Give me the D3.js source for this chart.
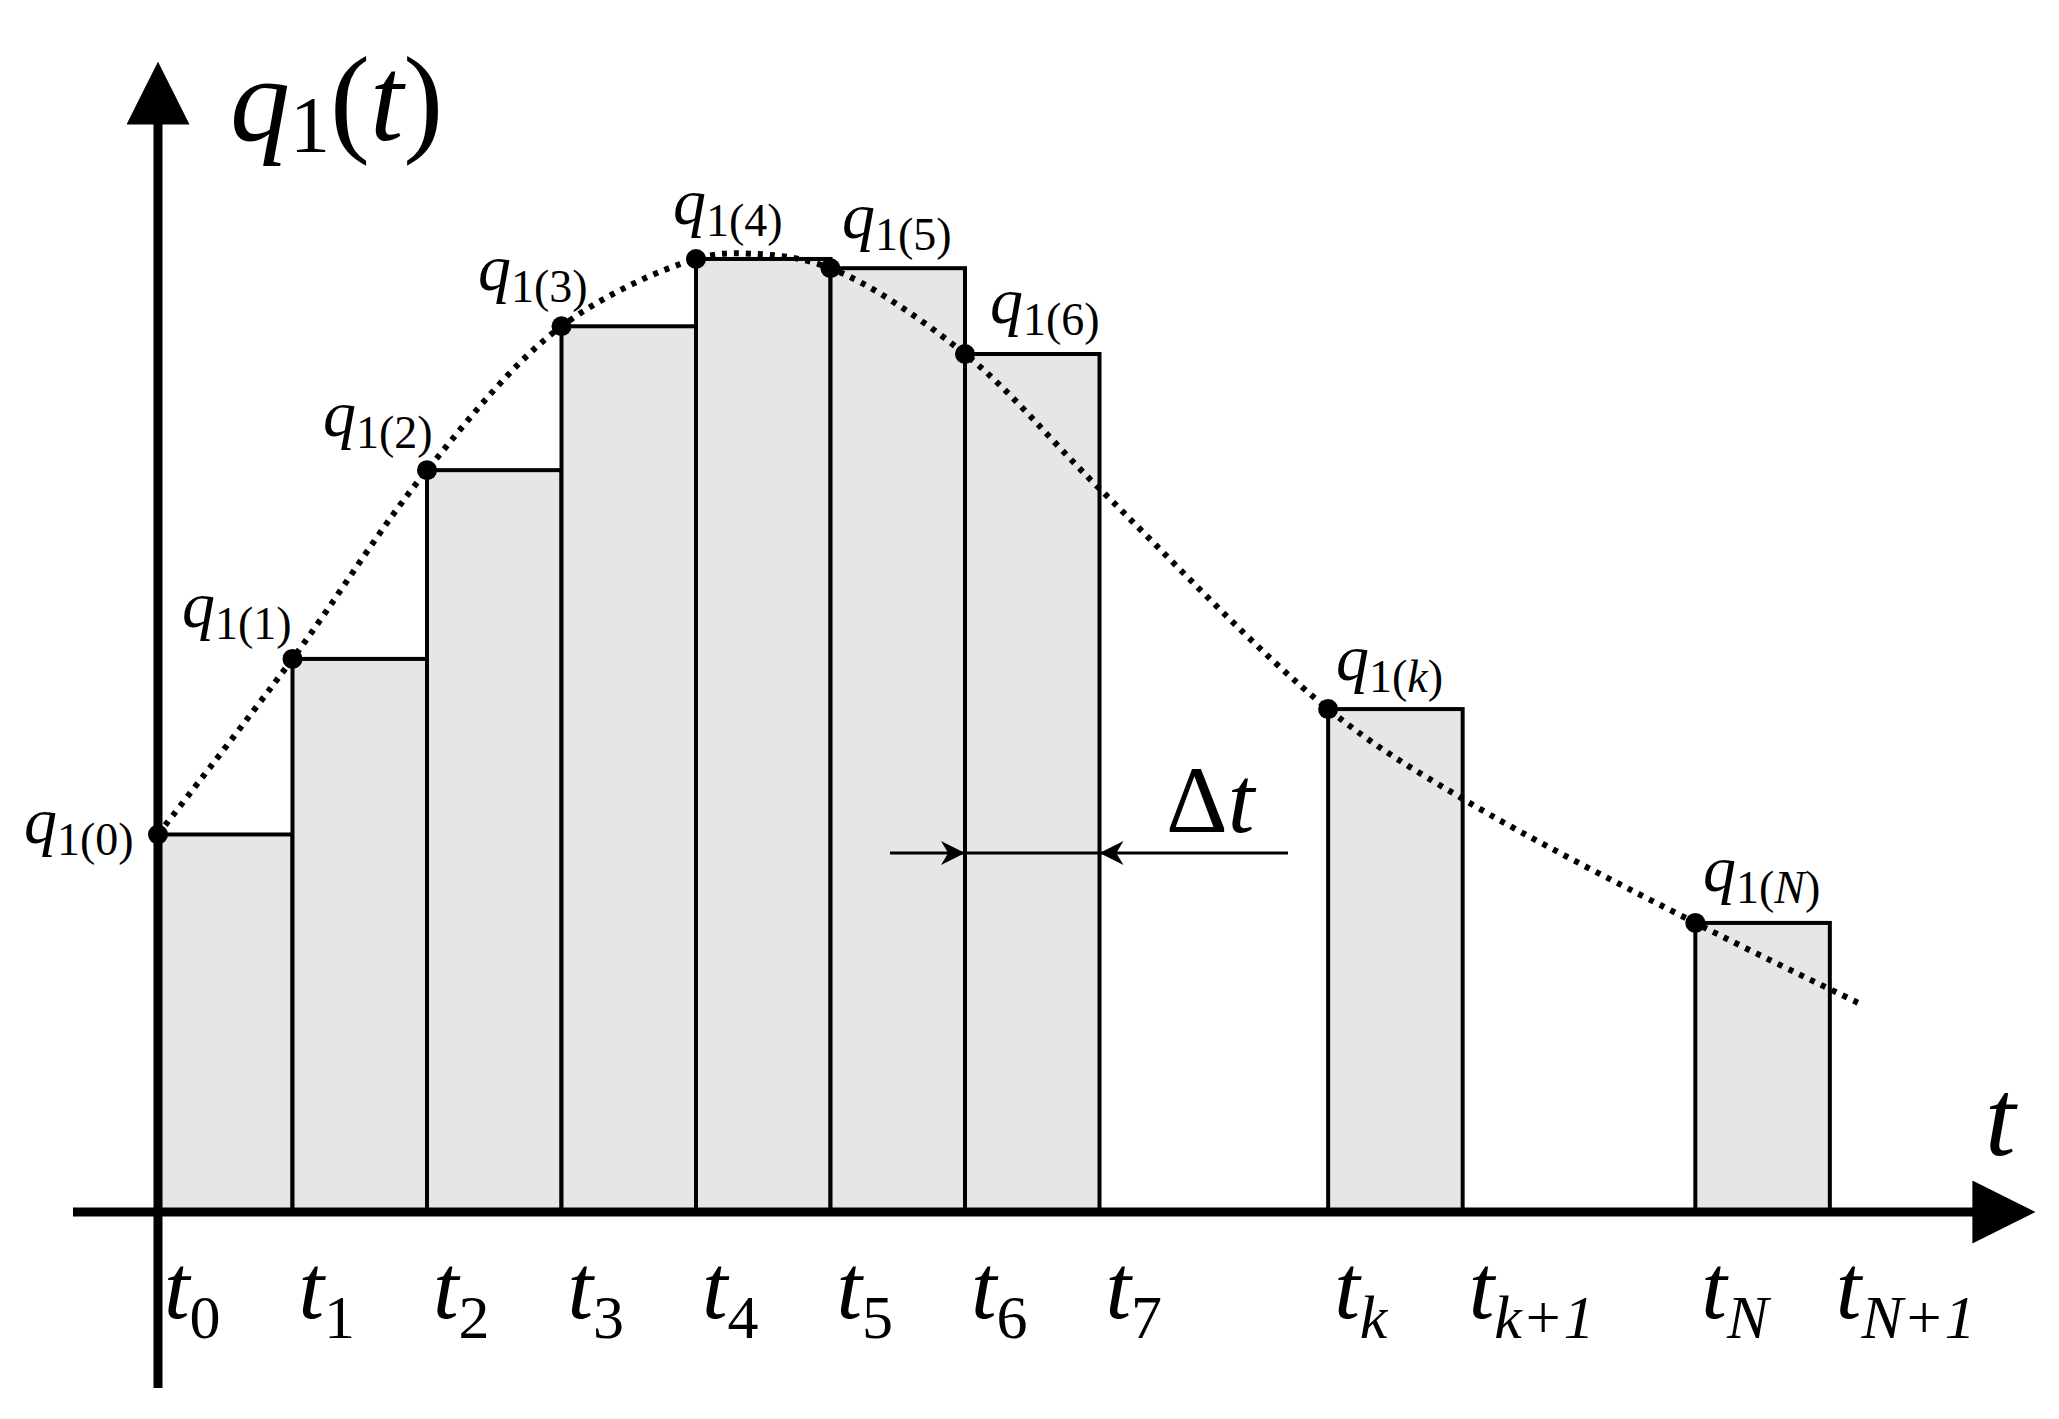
<!DOCTYPE html>
<html>
<head>
<meta charset="utf-8">
<script src="https://cdn.jsdelivr.net/npm/d3@7"></script>
<style>
  body { margin: 0; background: #fff; }
  text { font-family: 'Liberation Serif', 'Times New Roman', 'DejaVu Serif', serif; fill: #000; }
</style>
</head>
<body>
<svg id="chart"></svg>
<script>
// step boundaries (in units of Δt) and their labels
let tickTimes = [0, 1, 2, 3, 4, 5, 6, 7, 8.7, 9.7, 11.43, 12.43]
let tickSubs = ['0', '1', '2', '3', '4', '5', '6', '7', 'k', 'k+1', 'N', 'N+1']

// sample points q1(i) at the left edge of each bar
let sampleTimes = [0, 1, 2, 3, 4, 5, 6, 8.7, 11.43]
let sampleValues = [286, 419, 562, 671, 722, 715, 650, 381, 219]
let sampleSubs = ['1(0)', '1(1)', '1(2)', '1(3)', '1(4)', '1(5)', '1(6)', '1(k)', '1(N)']

// the continuous curve q1(t)
let curveTimes = [0, 1, 2, 3, 4, 4.4, 5, 6, 7, 8.7, 9.7, 11.43, 12.65]
let curveValues = [286, 419, 562, 671, 722, 726, 715, 650, 548, 381, 313, 219, 158]

let width = 2059
let height = 1419
let s = 1.32

let svg = d3.select('#chart').attr('width', width).attr('height', height)

let xScale = d3.scaleLinear().domain([0, 1]).range([158, 158 + 134.5])
let yScale = d3.scaleLinear().domain([0, 100]).range([1212, 1212 - 100 * s])

let bars = sampleTimes.map((t, i) => ({ x0: t, x1: t + 1, v: sampleValues[i] }))

svg.selectAll('rect.bar')
    .data(bars)
    .enter()
    .append('rect')
    .attr('class', 'bar')
    .attr('x', d => xScale(d.x0))
    .attr('width', d => xScale(d.x1) - xScale(d.x0))
    .attr('y', d => yScale(d.v))
    .attr('height', d => yScale(0) - yScale(d.v))
    .attr('fill', '#e6e6e6')
    .attr('stroke', '#000')
    .attr('stroke-width', 4)

// dotted curve
let line = d3.line()
    .x(d => xScale(d[0]))
    .y(d => yScale(d[1]))
    .curve(d3.curveCatmullRom)

svg.append('path')
    .datum(curveTimes.map((t, i) => [t, curveValues[i]]))
    .attr('d', line)
    .attr('fill', 'none')
    .attr('stroke', '#000')
    .attr('stroke-width', 6)
    .attr('stroke-dasharray', '5 7')

// sample dots
svg.selectAll('circle')
    .data(sampleTimes)
    .enter()
    .append('circle')
    .attr('cx', d => xScale(d))
    .attr('cy', (d, i) => yScale(sampleValues[i]))
    .attr('r', 10)
    .attr('fill', '#000')

// arrow markers
let defs = svg.append('defs')
defs.append('marker')
    .attr('id', 'bigArrow')
    .attr('viewBox', '0 0 10 10')
    .attr('refX', 2).attr('refY', 5)
    .attr('markerWidth', 7).attr('markerHeight', 7)
    .attr('markerUnits', 'strokeWidth')
    .attr('orient', 'auto')
    .append('path').attr('d', 'M0,0 L10,5 L0,10 Z').attr('fill', '#000')
defs.append('marker')
    .attr('id', 'smallArrow')
    .attr('viewBox', '0 0 10 10')
    .attr('refX', 10).attr('refY', 5)
    .attr('markerWidth', 12).attr('markerHeight', 8)
    .attr('markerUnits', 'strokeWidth')
    .attr('orient', 'auto')
    .append('path').attr('d', 'M0,0 L10,5 L0,10 L3,5 Z').attr('fill', '#000')

// axes
svg.append('line')
    .attr('x1', 73).attr('y1', yScale(0))
    .attr('x2', 1985).attr('y2', yScale(0))
    .attr('stroke', '#000').attr('stroke-width', 9)
    .attr('marker-end', 'url(#bigArrow)')
svg.append('line')
    .attr('x1', xScale(0)).attr('y1', 1388)
    .attr('x2', xScale(0)).attr('y2', 112)
    .attr('stroke', '#000').attr('stroke-width', 9)
    .attr('marker-end', 'url(#bigArrow)')

// tick labels t_i
let tl = svg.selectAll('text.tick')
    .data(tickTimes)
    .enter()
    .append('text')
    .attr('class', 'tick')
    .attr('x', d => xScale(d) + 6)
    .attr('y', 1318)
    .attr('font-size', 92)
    .attr('font-style', 'italic')
tl.append('tspan').text('t')
tl.append('tspan')
    .attr('font-size', 62)
    .attr('dy', 20)
    .attr('font-style', (d, i) => /[kN]/.test(tickSubs[i]) ? 'italic' : 'normal')
    .text((d, i) => tickSubs[i])

// sample labels q1(i)
let labelPos = [[24, 843], [182, 627], [323, 436], [478, 290], [673, 224], [842, 238], [990, 323], [1336, 680], [1703, 891]]
let ql = svg.selectAll('text.q')
    .data(sampleSubs)
    .enter()
    .append('text')
    .attr('class', 'q')
    .attr('x', (d, i) => labelPos[i][0])
    .attr('y', (d, i) => labelPos[i][1])
    .attr('font-size', 66)
    .attr('font-style', 'italic')
ql.append('tspan').text('q')
ql.append('tspan')
    .attr('font-size', 46)
    .attr('font-style', 'normal')
    .attr('dy', 12)
    .each(function (d) {
        let m = d.match(/^1\((.+)\)$/)
        let el = d3.select(this)
        el.append('tspan').text('1(')
        el.append('tspan').attr('font-style', /[kN]/.test(m[1]) ? 'italic' : 'normal').text(m[1])
        el.append('tspan').text(')')
    })

// axis titles
let yt = svg.append('text').attr('x', 230).attr('y', 140).attr('font-size', 120)
yt.append('tspan').attr('font-style', 'italic').text('q')
yt.append('tspan').attr('font-size', 80).attr('dy', 12).text('1')
yt.append('tspan').attr('dy', -12).text('(')
yt.append('tspan').attr('font-style', 'italic').text('t')
yt.append('tspan').text(')')

svg.append('text').attr('x', 1985).attr('y', 1155)
    .attr('font-size', 110).attr('font-style', 'italic').text('t')

// Δt dimension
let dimY = 853
svg.append('line')
    .attr('x1', 890).attr('y1', dimY).attr('x2', xScale(6)).attr('y2', dimY)
    .attr('stroke', '#000').attr('stroke-width', 3)
    .attr('marker-end', 'url(#smallArrow)')
svg.append('line')
    .attr('x1', 1288).attr('y1', dimY).attr('x2', xScale(7)).attr('y2', dimY)
    .attr('stroke', '#000').attr('stroke-width', 3)
    .attr('marker-end', 'url(#smallArrow)')
svg.append('line')
    .attr('x1', xScale(6)).attr('y1', dimY).attr('x2', xScale(7)).attr('y2', dimY)
    .attr('stroke', '#000').attr('stroke-width', 3)
let dt = svg.append('text').attr('x', 1166).attr('y', 832).attr('font-size', 96)
dt.append('tspan').text('Δ')
dt.append('tspan').attr('font-style', 'italic').text('t')
</script>
</body>
</html>
